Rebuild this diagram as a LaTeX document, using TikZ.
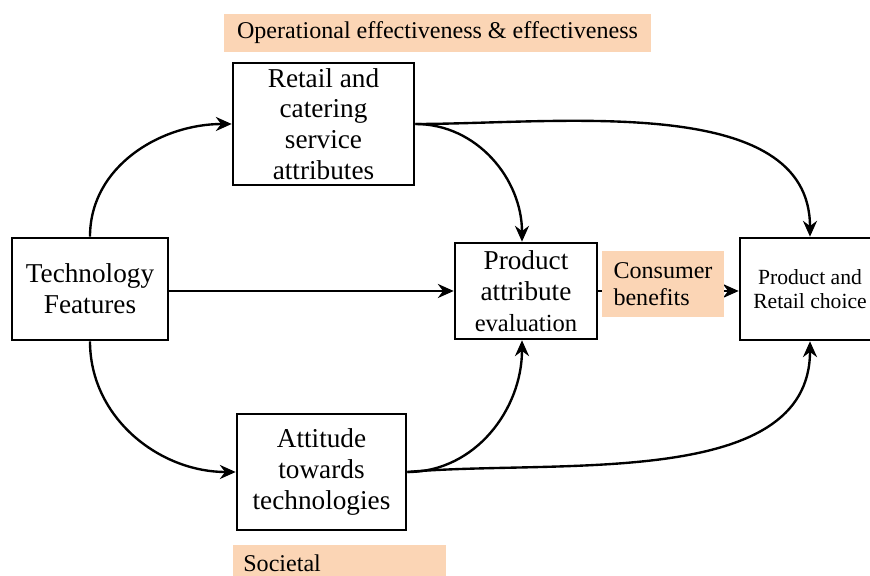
\documentclass[tikz,border=0pt]{standalone}
\usepackage{fontspec}
\setmainfont{Liberation Serif}
\usetikzlibrary{arrows.meta}
\begin{document}
\begin{tikzpicture}
            \tikzstyle{box}=[draw, line width=1.5pt, fill=white, align=center, font=\fontsize{15.5}{17.5}\selectfont, inner sep=2pt]
            \tikzstyle{tag}=[fill=orange!30!white, font=\fontsize{13.7}{15.5}\selectfont, inner sep=0pt]
            \tikzstyle{link}=[line width=1.35pt, -{Stealth[length=9pt,width=8pt]}]
            \definecolor{peach}{HTML}{FBD5B5}
            \clip (0, 0) rectangle (17.4, 11.52);
            \useasboundingbox (0, 0) rectangle (17.4, 11.52);
            \node [box, minimum width=3.62cm, minimum height=2.44cm] (retail) at (6.47, 9.04) {Retail and\\catering\\service\\attributes};
            \node [box, minimum width=3.12cm, minimum height=2.04cm] (tech) at (1.80, 5.74) {Technology\\Features};
            \node [box, minimum width=2.84cm, minimum height=1.92cm] (attr) at (10.52, 5.70) {Product\\attribute\\{\fontsize{14}{15}\selectfont evaluation}};
            \node [box, minimum width=2.8cm, minimum height=2.04cm, font=\fontsize{12.3}{13.6}\selectfont] (choice) at (16.2, 5.74) {Product and\\Retail choice};
            \node [box, minimum width=3.38cm, minimum height=2.32cm] (att) at (6.43, 2.08) {Attitude\\towards\\technologies};
            % connectors
            \draw [link] (tech.north) to [out=90, in=180] (retail.west);
            \draw [link] (tech.south) to [out=-90, in=180] (att.west);
            \draw [link] (tech.east |- attr.west) -- (attr.west);
            \draw [link] (retail.east) to [out=0, in=90] ([xshift=-0.08cm]attr.north);
            \draw [link] (retail.east) to [out=0, in=90, looseness=0.9] (choice.north);
            \draw [link] (att.east) to [out=0, in=-90] ([xshift=-0.08cm]attr.south);
            \draw [link] (att.east) to [out=5, in=-90, looseness=0.9] (choice.north |- choice.south);
            \draw [link] (attr.east) -- (attr.east -| choice.west);
            % labels
            \node [tag, fill=peach, minimum width=8.54cm, minimum height=0.76cm] (opeff) at (8.75, 10.86) {Operational effectiveness \& effectiveness};
            \node [tag, fill=peach, minimum width=2.44cm, minimum height=1.32cm, align=left] (benefit) at (13.26, 5.84) {Consumer\\benefits};
            \node [tag, fill=peach, anchor=north west, text width=3.86cm, inner xsep=0.2cm, inner ysep=0.18cm, minimum height=0.9cm, align=left, text depth=0.3cm] (society) at (4.66, 0.62) {Societal};
        \end{tikzpicture}
\end{document}
